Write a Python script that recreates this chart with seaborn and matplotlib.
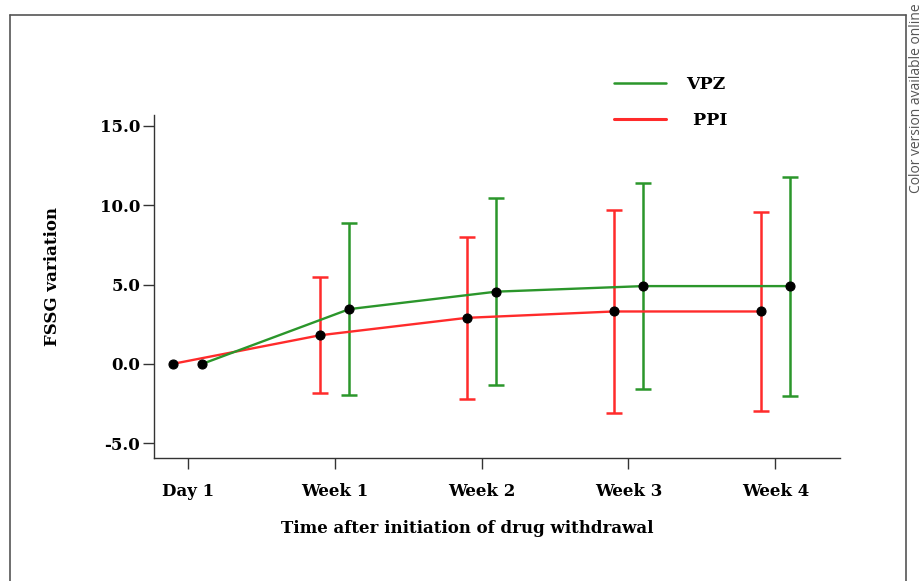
import pandas as pd
import matplotlib
matplotlib.use("Agg")
import matplotlib.pyplot as plt
import seaborn as sns
from matplotlib.lines import Line2D

# Datos (media y desviacion de la variacion FSSG)
timepoints = ["Day 1", "Week 1", "Week 2", "Week 3", "Week 4"]
vpz_mean = [0.0, 3.45, 4.55, 4.9, 4.9]
vpz_sd = [0.0, 5.4, 5.9, 6.5, 6.9]
ppi_mean = [0.0, 1.8, 2.9, 3.3, 3.3]
ppi_sd = [0.0, 3.65, 5.1, 6.4, 6.25]
yticks = [-5.0, 0.0, 5.0, 10.0, 15.0]

sns.set_theme(style="ticks")
plt.rcParams['font.family'] = ['DejaVu Serif', 'DejaVu Sans']
plt.rcParams['font.weight'] = 'bold'
plt.rcParams['text.color'] = 'black'
plt.rcParams['xtick.color'] = 'black'
plt.rcParams['ytick.color'] = 'black'
plt.rcParams['axes.labelcolor'] = 'black'

green = "#2b962b"
red = "#ff2b2b"
dodge = 0.1

# tabla larga para seaborn
rows = []
for name, means, sds, off in [("PPI", ppi_mean, ppi_sd, -dodge),
                              ("VPZ", vpz_mean, vpz_sd, dodge)]:
    for i, (m, s) in enumerate(zip(means, sds)):
        rows.append({"group": name, "x": i + off, "mean": m, "sd": s})
df = pd.DataFrame(rows)

fig = plt.figure(figsize=(9.23, 5.81), dpi=100)
ax = fig.add_axes([154 / 923, 1 - 458 / 581, 686 / 923, 343 / 581])

# barras de error primero
for name, color in [("PPI", red), ("VPZ", green)]:
    sub = df[(df["group"] == name) & (df["sd"] > 0)]
    ax.errorbar(sub["x"], sub["mean"], yerr=sub["sd"], fmt="none",
                ecolor=color, elinewidth=1.8, capsize=6, capthick=1.8, zorder=2)

n_before = len(ax.lines)
sns.lineplot(data=df, x="x", y="mean", hue="group", hue_order=["PPI", "VPZ"],
             palette={"PPI": red, "VPZ": green}, marker="o", markersize=6.5,
             linewidth=1.7, legend=False, ax=ax, zorder=3)
for line in ax.lines[n_before:]:
    line.set_markerfacecolor("black")
    line.set_markeredgecolor("black")
    line.set_markeredgewidth(0.8)

ax.set_xlim(-0.23, 4.44)
ax.set_ylim(-5.94, 15.69)
ax.set_xticks(range(len(timepoints)))
ax.set_xticklabels(timepoints)
ax.set_yticks(yticks)
ax.set_yticklabels([f"{v:.1f}" for v in yticks])
ax.tick_params(axis="both", labelsize=12, length=8, width=1, color="#333333")
ax.tick_params(axis="x", pad=10)
ax.tick_params(axis="y", pad=2)
for lab in ax.get_xticklabels() + ax.get_yticklabels():
    lab.set_fontweight("bold")
sns.despine(ax=ax)
for sp in ["left", "bottom"]:
    ax.spines[sp].set_color("#333333")
    ax.spines[sp].set_linewidth(1)

ax.set_xlabel("Time after initiation of drug withdrawal", fontsize=12, fontweight="bold")
ax.set_ylabel("FSSG variation", fontsize=12, fontweight="bold")
ax.xaxis.set_label_coords(0.456, -0.18)
ax.yaxis.set_label_coords(-0.136, 0.528)

handles = [Line2D([], [], color=green, lw=1.8), Line2D([], [], color=red, lw=2.2)]
fig.legend(handles, ["VPZ", " PPI"], loc="upper left", bbox_to_anchor=(598 / 923, 1 - 60 / 581),
           frameon=False, fontsize=12.5, handlelength=3.0, handletextpad=1.2, labelspacing=1.1)

# marco exterior y nota lateral
fr = dict(color="#555555", lw=1.2, transform=fig.transFigure)
fig.add_artist(Line2D([10 / 923, 10 / 923], [0, 1 - 15 / 581], **fr))
fig.add_artist(Line2D([10 / 923, 906 / 923], [1 - 15 / 581, 1 - 15 / 581], **fr))
fig.add_artist(Line2D([906 / 923, 906 / 923], [0, 1 - 15 / 581], **fr))
fig.text(916 / 923, 1 - 3 / 581, "Color version available online", rotation=90,
         ha="center", va="top", fontsize=10, color="#555555",
         family=["Open Sans", "DejaVu Sans"], fontweight="normal")

fig.savefig("out.png", dpi=100)
